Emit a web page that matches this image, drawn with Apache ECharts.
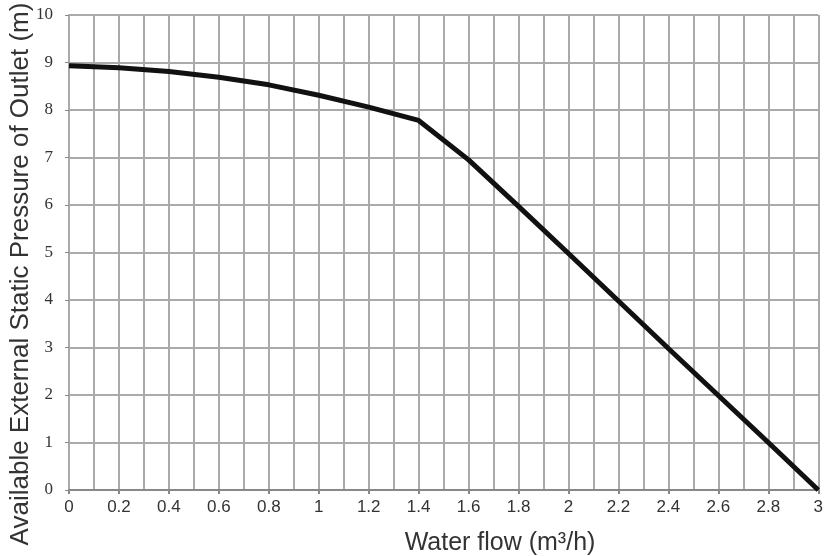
<!DOCTYPE html>
<html><head><meta charset="utf-8">
<script src="https://cdn.jsdelivr.net/npm/echarts@6/dist/echarts.min.js"></script>
<style>html,body{margin:0;padding:0;background:#fff}#c{width:826px;height:556px}</style>
</head><body><div id="c"></div>
<script>
var flow = [0, 0.2, 0.4, 0.6, 0.8, 1.0, 1.2, 1.4, 1.6, 1.8, 2.0, 2.2, 2.4, 2.6, 2.8, 3.0];
var pressure = [8.93, 8.89, 8.81, 8.69, 8.53, 8.31, 8.06, 7.78, 6.95, 5.97, 4.98, 3.98, 2.98, 1.99, 1.0, 0];
var xTitle = 'Water flow (m\u00b3/h)';
var yTitle = 'Available External Static Pressure of Outlet (m)';

var chart = echarts.init(document.getElementById('c'));
chart.setOption({
  animation: false,
  grid: {left: 69, right: 6, top: 15, bottom: 66},
  xAxis: [{
    type: 'value', min: 0, max: 3, interval: 0.2,
    axisLine: {show: true, lineStyle: {color: '#888', width: 2}},
    axisTick: {show: true, length: 4, lineStyle: {color: '#888', width: 2}},
    axisLabel: {color: '#333', fontFamily: 'Liberation Sans, Arial', fontSize: 17, margin: 9,
      formatter: function (v) { return String(Math.round(v * 10) / 10); }},
    splitLine: {show: false}
  }, {
    type: 'value', min: 0, max: 3, interval: 0.1, position: 'bottom',
    axisLine: {show: false}, axisTick: {show: false}, axisLabel: {show: false},
    splitLine: {show: true, lineStyle: {color: '#aaa', width: 2}}
  }],
  yAxis: {
    type: 'value', min: 0, max: 10, interval: 1,
    axisLine: {show: true, lineStyle: {color: '#aaa', width: 2}},
    axisTick: {show: true, length: 4, lineStyle: {color: '#888', width: 1}},
    axisLabel: {color: '#333', fontFamily: 'Liberation Serif, Times New Roman', fontSize: 17, margin: 16},
    splitLine: {show: true, lineStyle: {color: '#aaa', width: 2}}
  },
  series: [{
    type: 'line', xAxisIndex: 0,
    data: flow.map(function (x, i) { return [x, pressure[i]]; }),
    showSymbol: false, smooth: false,
    lineStyle: {color: '#111', width: 5}, z: 5
  }],
  graphic: [{
    type: 'text',
    style: {text: xTitle, font: '25px "Liberation Sans", Arial', fill: '#333', textAlign: 'center', textVerticalAlign: 'middle'},
    position: [500, 543]
  }, {
    type: 'text', rotation: Math.PI / 2,
    style: {text: yTitle, font: '26px "Liberation Sans", Arial', fill: '#333', textAlign: 'center', textVerticalAlign: 'middle'},
    position: [21, 274]
  }]
});
</script></body></html>
